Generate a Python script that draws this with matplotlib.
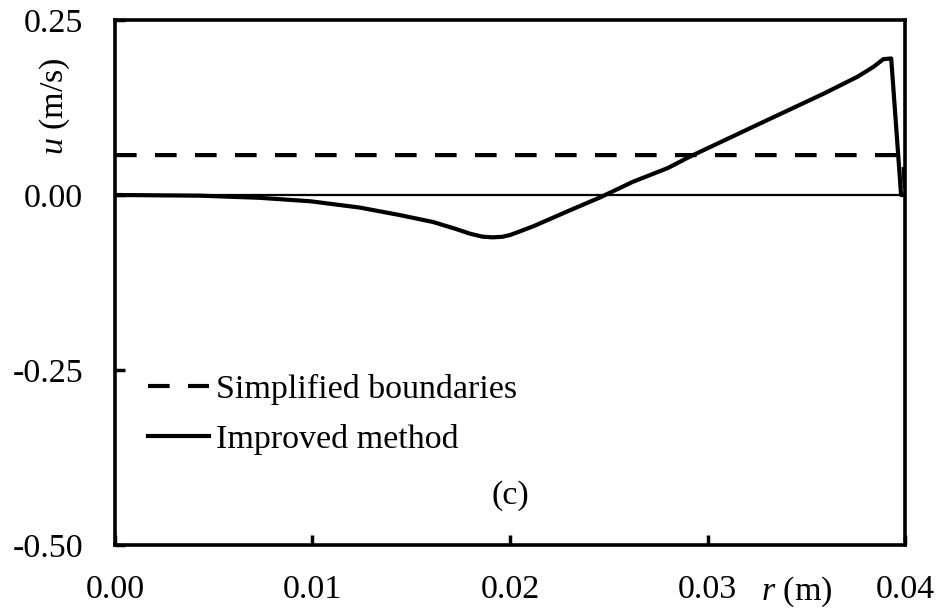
import matplotlib as mpl
import matplotlib.pyplot as plt
import numpy as np

mpl.rc('font', family='Liberation Serif', size=24.5)
mpl.rcParams['mathtext.fontset'] = 'custom'
mpl.rcParams['mathtext.rm'] = 'Liberation Serif'
mpl.rcParams['mathtext.it'] = 'Liberation Serif:italic'

# radial velocity profiles
r_simple = [0.0, 0.0399, 0.04]
u_simple = [0.057, 0.057, 0.0]

r_improved = [0.0, 0.0043, 0.0073, 0.0099, 0.0124, 0.0144, 0.0161, 0.0172,
              0.0180, 0.0186, 0.0191, 0.0196, 0.0200, 0.0205, 0.0212, 0.0229,
              0.0246, 0.0262, 0.0280, 0.0291, 0.0325, 0.0359, 0.0376, 0.0384,
              0.0389, 0.0393, 0.0398, 0.0400]
u_improved = [0.0, -0.001, -0.004, -0.009, -0.018, -0.0286, -0.0386, -0.048,
              -0.0555, -0.0595, -0.0605, -0.0598, -0.0572, -0.052, -0.0445, -0.0235,
              -0.003, 0.0186, 0.0386, 0.0547, 0.100, 0.145, 0.169, 0.183,
              0.194, 0.195, 0.0, 0.0]

xticks = [0.00, 0.01, 0.02, 0.03, 0.04]
yticks = [-0.50, -0.25, 0.00, 0.25]


def main():
    fig = plt.figure(figsize=(9.4, 6.09), dpi=100)
    ax = fig.add_axes([0.1223, 0.1051, 0.8405, 0.8621])

    ax.axhline(0, color='black', lw=1.6, zorder=1)
    ax.plot(r_simple, u_simple, color='black', lw=3, ls=(0, (5.2, 4.4)),
            label='Simplified boundaries', zorder=3)
    ax.plot(r_improved, u_improved, color='black', lw=3, solid_joinstyle='round',
            label='Improved method', zorder=3)

    ax.set_xlim(0, 0.04)
    ax.set_ylim(-0.5, 0.25)
    ax.set_xticks(xticks)
    ax.set_yticks(yticks)
    ax.set_xticklabels(['%.2f' % v for v in xticks])
    ax.set_yticklabels(['%.2f' % v for v in yticks])
    ax.tick_params(direction='in', length=7, width=2.5, top=False, right=False)
    ax.tick_params(axis='x', pad=21)
    ax.tick_params(axis='y', pad=23)
    for s in ax.spines.values():
        s.set_linewidth(2.6)

    # axis titles
    fig.text(0.058, 0.825, r'$\it{u}$ (m/s)', rotation=90, ha='center', va='center')
    ax.annotate(r'$\it{r}$ (m)', xy=(0.0345, 0), xycoords=('data', 'axes fraction'),
                xytext=(0, -21), textcoords='offset points', ha='center', va='top')

    ax.text(0.02, -0.43, '(c)', ha='center', va='center')

    ax.legend(loc='upper left', bbox_to_anchor=(0.042, 0.326), frameon=False,
              handlelength=1.8, handletextpad=0.2, labelspacing=0.55,
              borderpad=0, borderaxespad=0)

    fig.savefig('out.png', dpi=100)


if __name__ == '__main__':
    main()
